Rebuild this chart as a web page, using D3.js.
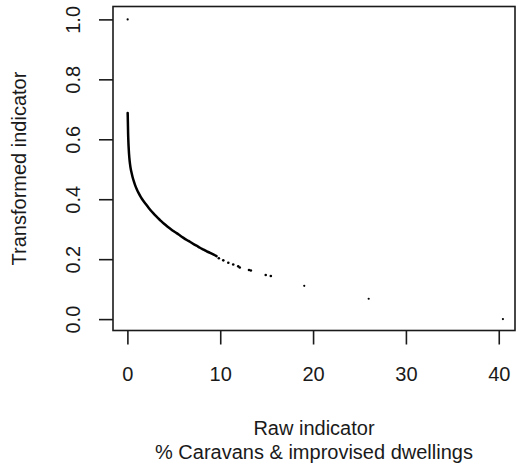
<!DOCTYPE html>
<html>
<head>
<meta charset="utf-8">
<script src="https://cdn.jsdelivr.net/npm/d3@7"></script>
<style>
  body { margin: 0; background: #fff; }
  svg { display: block; font-family: "Liberation Sans", Arial, Helvetica, sans-serif; }
</style>
</head>
<body>
<svg id="chart"></svg>
<script>
// dense part of the scatter (reads as a solid curve): [raw, transformed]
const curvePoints = [
  [0.03, 0.688], [0.04, 0.675], [0.05, 0.660], [0.06, 0.645], [0.07, 0.630],
  [0.08, 0.615], [0.10, 0.598], [0.12, 0.582], [0.15, 0.565], [0.18, 0.550],
  [0.22, 0.535], [0.28, 0.518], [0.35, 0.503], [0.45, 0.488], [0.55, 0.475],
  [0.68, 0.461], [0.82, 0.448], [1.00, 0.434], [1.20, 0.421], [1.45, 0.407],
  [1.71, 0.395], [2.00, 0.383], [2.30, 0.371], [2.62, 0.359], [2.95, 0.348],
  [3.30, 0.337], [3.60, 0.328], [3.95, 0.318], [4.30, 0.309], [4.60, 0.302],
  [5.00, 0.293], [5.30, 0.287], [5.67, 0.279], [6.00, 0.272], [6.40, 0.264],
  [6.74, 0.258], [7.10, 0.251], [7.45, 0.245], [7.82, 0.238], [8.20, 0.232],
  [8.55, 0.226], [8.90, 0.221], [9.30, 0.215], [9.60, 0.210]
];
// sparser dots trailing off the curve
const tailPoints = [
  [9.85, 0.203], [10.33, 0.196], [10.87, 0.188], [11.40, 0.182], [11.94, 0.176],
  [12.10, 0.172], [13.10, 0.164], [13.30, 0.162], [14.90, 0.147], [15.45, 0.144]
];
// isolated points
const outlierPoints = [[0.03, 1.0], [19.05, 0.111], [25.99, 0.068], [40.45, 0.0]];

const xTicks = [0, 10, 20, 30, 40];
const yTicks = [0, 0.2, 0.4, 0.6, 0.8, 1.0];
const xTitle = ["Raw indicator", "% Caravans & improvised dwellings"];
const yTitle = "Transformed indicator";

const width = 516, height = 470;
const box = { left: 113, right: 515, top: 6.5, bottom: 330.5 };
const ink = "#1a1a1a";

const svg = d3.select("#chart")
  .attr("width", width)
  .attr("height", height)
  .style("font-size", "20px");

const x = d3.scaleLinear().domain([-1.55, 41.75]).range([box.left, box.right]);
const y = d3.scaleLinear().domain([-0.038, 1.043]).range([box.bottom, box.top]);

// axes (R style: ticks outside, labels drawn separately)
const xAxis = svg.append("g")
  .attr("transform", `translate(0,${box.bottom})`)
  .call(d3.axisBottom(x).tickValues(xTicks).tickSize(14).tickSizeOuter(0).tickFormat(d3.format("d")));
xAxis.select(".domain").remove();
xAxis.selectAll("line").attr("stroke", ink).attr("stroke-width", 1.6);
xAxis.selectAll("text")
  .attr("y", 50.5)
  .attr("dy", null)
  .attr("fill", ink)
  .style("font-size", "20px");

const yAxis = svg.append("g")
  .attr("transform", `translate(${box.left},0)`)
  .call(d3.axisLeft(y).tickValues(yTicks).tickSize(14).tickSizeOuter(0).tickFormat(d3.format(".1f")));
yAxis.select(".domain").remove();
yAxis.selectAll("line").attr("stroke", ink).attr("stroke-width", 1.6);
yAxis.selectAll("text")
  .attr("x", null)
  .attr("dy", null)
  .attr("text-anchor", "middle")
  .attr("transform", "translate(-33,0) rotate(-90)")
  .attr("fill", ink)
  .style("font-size", "20px");

// plot box
svg.append("rect")
  .attr("x", box.left)
  .attr("y", box.top)
  .attr("width", box.right - box.left)
  .attr("height", box.bottom - box.top)
  .attr("fill", "none")
  .attr("stroke", ink)
  .attr("stroke-width", 1.6);

// points
const line = d3.line()
  .x(d => x(d[0]))
  .y(d => y(d[1]))
  .curve(d3.curveCatmullRom);

svg.append("path")
  .datum(curvePoints)
  .attr("d", line)
  .attr("fill", "none")
  .attr("stroke", "#000")
  .attr("stroke-width", 2.5)
  .attr("stroke-linecap", "round");

svg.append("g")
  .selectAll("circle")
  .data(tailPoints)
  .join("circle")
  .attr("cx", d => x(d[0]))
  .attr("cy", d => y(d[1]))
  .attr("r", 1.3)
  .attr("fill", "#000");

svg.append("g")
  .selectAll("circle")
  .data(outlierPoints)
  .join("circle")
  .attr("cx", d => x(d[0]))
  .attr("cy", d => y(d[1]))
  .attr("r", 1.1)
  .attr("fill", "#000");

// titles
const cx = (box.left + box.right) / 2;
svg.append("text")
  .attr("x", cx).attr("y", 435)
  .attr("text-anchor", "middle")
  .attr("fill", ink)
  .text(xTitle[0]);
svg.append("text")
  .attr("x", cx).attr("y", 459)
  .attr("text-anchor", "middle")
  .attr("fill", ink)
  .text(xTitle[1]);

svg.append("text")
  .attr("transform", `translate(26,${(box.top + box.bottom) / 2}) rotate(-90)`)
  .attr("text-anchor", "middle")
  .attr("fill", ink)
  .text(yTitle);
</script>
</body>
</html>
